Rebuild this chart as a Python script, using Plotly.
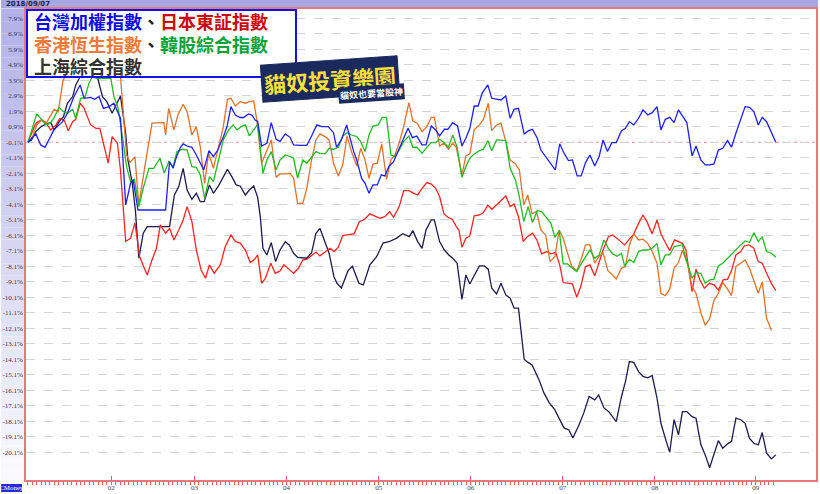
import plotly.graph_objects as go

# ---------------- data (x = trading-day index since 2018/01/02, y = % change) ----------------
month_pos = [19, 38, 59, 80, 101, 122, 143, 166]
month_labels = ["02", "03", "04", "05", "06", "07", "08", "09"]
y_ticks = [round(7.9 - i, 1) for i in range(29)]
y_labels = [f"{v:.1f}%" for v in y_ticks]

tw_day = [0, 1.8, 2.9, 3.9, 5.9, 7.9, 9.0, 10.5, 11.9, 12.8, 14.3, 15.2, 16.2, 17.2, 18.5, 19.6, 21.1, 22.3, 23.4, 24.0,
          25.1, 31.4, 32.3, 33.1, 33.9, 34.8, 35.4, 36.3, 37.4, 38.4, 40.1, 41.3, 42.3, 43.3, 44.6, 45.4, 46.3, 47.3, 48.4,
          49.2, 50.3, 51.1, 51.8, 52.4, 53.3, 54.5, 55.5, 56.6, 57.5, 58.7, 59.8, 60.6, 62.1, 63.6, 64.7, 65.9, 67.0, 68.5,
          69.7, 70.4, 71.5, 72.7, 73.6, 74.3, 75.0, 76.1, 76.9, 77.8, 78.7, 79.7, 80.6, 81.4, 82.4, 83.4, 84.4, 85.6, 86.7,
          87.7, 88.7, 89.9, 90.8, 92.0, 93.0, 93.9, 95.0, 95.8, 96.9, 98.0, 99.0, 99.9, 100.8, 101.8, 102.7, 103.6, 104.9,
          105.8, 106.9, 107.9, 109.0, 110.0, 110.9, 111.9, 113.2, 114.2, 115.1, 116.2, 117.0, 118.1, 119.3, 120.3, 121.3,
          122.3, 123.3, 124.2, 125.3, 126.2, 127.2, 128.2, 129.3, 130.3, 131.2, 132.2, 133.2, 134.2, 135.4, 136.3, 137.2,
          138.2, 139.3, 140.3, 141.4, 142.4, 143.5, 144.4, 145.4, 146.4, 147.4, 148.4, 149.3, 150.3, 151.5, 152.4, 153.5,
          154.5, 155.5, 156.5, 157.5, 158.5, 159.6, 160.5, 161.5, 162.4, 163.6, 164.6, 165.6, 166.6, 167.5, 168.5, 169.6,
          170.6]
tw_val = [-0.1, 0.44, -0.27, -0.42, 0.7, 1.23, 1.77, 2.85, 3.6, 2.74, 2.8, 2.67, 2.85, 2.09, 2.2, 2.42, 1.45, -4.14, -2.75,
          -2.53, -4.47, -4.47, -1.35, -1.78, -1.02, -0.42, -0.2, -0.34, -0.42, -0.92, -1.88, -0.64, -1.02, -0.6, 0.27, 0.9,
          2.2, 1.66, 1.5, 1.5, 1.73, 1.66, 1.34, 1.24, -0.34, -0.16, 1.17, 0.09, -0.04, 0.44, 0.22, -0.27, -0.3, -0.3, 0.31,
          1.02, 0.91, 0.91, 0.52, -0.42, 0.05, 1.02, 0.05, -0.7, -1.24, -2.42, -2.75, -3.39, -2.85, -2.85, -2.2, -2.27,
          -1.63, -1.35, -0.7, 0.05, 0.8, 0.2, 0.3, -0.27, -0.27, 0.95, 0.7, 0.31, 0.74, 0.74, 1.17, 0.95, -0.34, 0.16, 0.8,
          2.24, 2.24, 3.06, 3.6, 2.74, 2.67, 2.63, 2.89, 1.45, 2.03, 2.09, 0.44, 0.65, 0.74, 0.16, -0.6, -1.02, -1.45,
          -1.88, -0.2, -0.81, -1.28, -1.24, -2.27, -2.27, -1.41, -0.92, -1.63, -1.02, 0.05, -0.7, -0.12, -0.12, 0.65, 0.8,
          1.23, 1.02, 1.45, 1.99, 1.66, 1.81, 2.2, 0.7, 1.38, 1.51, 1.17, 1.99, 1.6, 1.17, -0.98, -0.34, -1.24, -1.56,
          -1.56, -1.5, -0.6, -0.49, 0.01, -0.42, 0.48, 1.23, 2.2, 2.16, 1.88, 1.02, 1.51, 1.23, 0.59, -0.1]

jp_day = [0, 1.1, 1.8, 3.0, 3.9, 5.2, 6.4, 7.3, 8.3, 9.2, 10.2, 10.9, 11.9, 12.8, 14.3, 15.5, 16.4, 17.2, 18.3, 19.2, 20.4,
          21.1, 22.3, 23.4, 24.4, 25.5, 27.2, 28.3, 29.3, 30.2, 31.4, 32.3, 33.3, 34.4, 35.4, 36.3, 37.4, 38.4, 39.5, 40.5,
          41.4, 42.5, 43.9, 45.0, 46.3, 47.3, 48.4, 49.6, 50.7, 51.7, 52.4, 53.3, 54.1, 55.4, 56.4, 57.5, 58.4, 59.6, 60.6,
          61.7, 62.7, 63.6, 64.5, 65.7, 66.6, 67.8, 68.9, 69.8, 70.8, 71.8, 73.1, 74.4, 75.6, 76.8, 78.0, 79.1, 80.3, 81.4,
          82.5, 83.4, 84.7, 85.7, 86.9, 88.0, 88.9, 89.9, 91.0, 92.0, 93.0, 93.9, 94.9, 95.8, 96.8, 97.7, 98.3, 99.0, 99.9,
          100.8, 101.8, 103.0, 103.9, 104.9, 105.8, 106.9, 107.9, 109.0, 110.0, 110.9, 111.9, 113.0, 113.9, 115.1, 116.1,
          117.2, 118.3, 119.3, 120.4, 121.3, 122.1, 123.0, 124.2, 125.2, 126.1, 127.2, 128.2, 129.3, 130.3, 131.2, 132.4,
          133.4, 134.4, 136.1, 137.2, 138.2, 139.3, 140.3, 141.2, 142.4, 143.5, 144.4, 145.4, 146.4, 147.5, 148.4, 149.3,
          150.1, 150.9, 151.5, 152.4, 153.3, 154.3, 155.5, 156.5, 157.5, 158.6, 159.6, 160.5, 161.5, 162.6, 163.4, 164.5,
          165.6, 166.6, 167.5, 168.5, 169.6, 170.6]
jp_val = [-0.1, 0.7, 1.13, 1.34, 1.23, 0.7, 1.02, 1.45, 1.3, 0.65, 1.23, 1.38, 2.42, 2.09, 1.02, 0.8, 0.8, -0.16, -1.45,
          0.27, -0.16, -1.88, -6.5, -6.3, -5.3, -7.5, -8.66, -7.69, -6.94, -5.43, -5.97, -5.65, -6.4, -5.76, -5.11, -4.25,
          -5.22, -7.05, -8.34, -8.87, -8.01, -8.55, -8.0, -6.83, -6.08, -6.5, -6.6, -7.05, -7.86, -7.65, -7.37, -9.2, -8.9,
          -7.9, -8.55, -8.4, -8.0, -8.3, -8.55, -8.23, -7.69, -7.65, -7.43, -7.18, -7.43, -7.15, -6.94, -7.15, -6.87,
          -6.12, -6.08, -6.01, -5.22, -5.07, -4.72, -4.85, -5.0, -4.9, -4.57, -4.94, -4.25, -3.22, -3.22, -3.4, -3.5,
          -3.07, -2.7, -2.8, -3.07, -3.6, -4.72, -4.94, -5.07, -5.54, -5.76, -6.87, -6.29, -6.14, -4.85, -4.79, -4.64,
          -4.15, -4.42, -4.15, -3.86, -3.56, -4.25, -4.08, -4.9, -6.51, -6.19, -5.97, -6.4, -7.3, -7.15, -7.3, -7.22,
          -8.01, -9.15, -9.2, -9.24, -10.1, -9.41, -8.12, -8.01, -8.72, -7.8, -7.05, -6.19, -6.08, -6.3, -6.72, -6.35,
          -6.01, -5.33, -4.79, -5.22, -6.01, -5.11, -6.01, -6.57, -7.09, -6.4, -6.51, -6.62, -7.05, -8.77, -9.73, -8.29,
          -8.98, -9.52, -9.2, -9.3, -9.63, -8.98, -8.94, -8.38, -7.37, -7.15, -6.79, -6.72, -6.94, -7.8, -7.9, -8.55,
          -9.2, -9.67]

hk_day = [0, 1.1, 2.0, 3.1, 4.1, 4.8, 6.0, 6.9, 7.5, 8.0, 9.5, 11.0, 13.0, 15.0, 17.0, 19.0, 20.0, 21.1, 22.5, 23.3, 24.4,
          25.3, 26.6, 28.3, 31.0, 31.4, 32.1, 33.3, 34.2, 35.4, 36.3, 37.4, 38.4, 39.3, 40.3, 41.2, 42.3, 43.7, 44.5, 45.5,
          46.3, 47.3, 48.4, 49.6, 50.5, 51.5, 52.2, 53.3, 54.5, 55.5, 56.6, 57.5, 58.7, 59.8, 60.6, 61.5, 62.7, 63.6, 64.7,
          65.7, 66.6, 67.8, 68.7, 69.7, 70.8, 71.8, 72.8, 73.8, 75.0, 75.9, 76.9, 77.8, 78.7, 79.7, 80.7, 81.8, 82.8, 83.7,
          84.7, 85.7, 86.9, 87.8, 88.8, 89.9, 91.0, 92.0, 92.7, 93.9, 94.9, 95.9, 96.9, 97.7, 99.0, 99.9, 100.8, 101.8,
          103.0, 103.9, 105.0, 105.8, 106.9, 107.9, 109.0, 110.0, 111.2, 112.1, 113.1, 114.0, 115.0, 116.0, 117.0, 118.1,
          119.1, 120.2, 121.2, 122.1, 123.1, 124.0, 125.2, 126.2, 127.2, 128.2, 129.3, 130.3, 131.2, 132.3, 133.4, 134.2,
          135.4, 136.3, 137.2, 138.2, 139.3, 140.3, 141.4, 142.4, 143.5, 144.4, 145.4, 146.4, 147.4, 148.4, 149.3, 150.5,
          151.5, 152.4, 153.5, 154.5, 155.5, 156.5, 157.5, 158.5, 159.6, 160.5, 161.5, 162.6, 163.6, 164.6, 165.6, 166.6,
          167.5, 168.5, 169.6]
hk_val = [-0.1, 0.27, 1.02, 1.34, 1.1, 1.45, 2.03, 1.88, 3.0, 3.9, 4.6, 5.0, 5.3, 4.9, 5.2, 4.8, 4.4, 4.14, -0.92, -1.41,
          -1.02, -4.14, -1.78, 1.13, 1.17, 0.37, 2.09, 0.7, 1.66, 2.35, 1.88, 0.37, 0.91, -0.38, -2.75, -0.81, -1.78, 0.0,
          0.8, 2.67, 2.74, 2.24, 2.52, 2.42, 2.52, 2.57, 1.34, -1.45, -0.6, 0.05, -2.36, -2.14, -2.14, -2.1, -2.42, -4.04,
          -4.04, -3.07, -1.24, 0.05, 0.44, 0.27, 0.05, -1.45, -2.27, -1.56, 0.31, -0.7, -1.63, -0.49, -1.24, -2.42, -1.5,
          -1.45, -0.2, -2.49, -1.24, -0.92, -0.12, 0.91, 2.46, 1.27, 1.13, 0.59, 0.91, 1.51, 1.51, -0.34, -0.16, -0.55,
          -0.16, -0.42, -2.2, -0.98, -0.85, 0.7, 1.02, 1.38, 2.42, 0.65, 1.02, 1.13, -0.06, -1.24, -1.5, -1.88, -4.14,
          -3.5, -4.72, -4.57, -5.76, -6.08, -7.8, -7.48, -5.76, -6.29, -7.26, -8.08, -8.38, -7.65, -6.72, -6.72, -7.9,
          -7.43, -7.22, -8.38, -8.66, -8.92, -8.23, -8.12, -6.72, -6.01, -6.4, -6.35, -6.62, -7.15, -7.9, -9.84, -10.0,
          -9.58, -8.23, -7.86, -7.05, -8.01, -9.41, -9.84, -11.1, -11.9, -11.5, -10.3, -9.84, -9.15, -9.58, -10.0, -8.12,
          -7.9, -7.69, -8.23, -9.09, -9.84, -9.09, -11.46, -12.25]

kr_day = [0, 1.1, 2.0, 3.1, 4.1, 5.1, 6.0, 7.1, 8.1, 9.0, 10.2, 10.9, 12.0, 13.0, 13.9, 14.7, 15.7, 16.6, 17.7, 18.9, 19.6,
          20.5, 21.5, 22.5, 23.4, 24.3, 25.3, 26.4, 27.6, 28.7, 30.1, 31.1, 32.1, 33.1, 34.0, 35.2, 36.3, 37.4, 38.4, 39.3,
          40.3, 41.4, 42.3, 43.5, 44.6, 45.8, 46.8, 47.7, 48.6, 49.6, 50.5, 51.5, 52.4, 53.6, 54.5, 55.5, 56.6, 57.5, 58.7,
          59.8, 60.6, 61.5, 62.7, 63.6, 64.7, 65.7, 66.6, 67.8, 68.7, 69.7, 70.8, 71.8, 72.8, 73.8, 75.0, 75.9, 76.9, 77.8,
          78.7, 79.9, 80.8, 81.8, 82.8, 83.7, 84.7, 85.7, 86.9, 87.8, 88.7, 89.9, 91.0, 92.0, 93.0, 93.9, 94.9, 95.9, 96.9,
          97.9, 99.0, 99.9, 100.8, 101.8, 103.0, 103.9, 104.9, 105.8, 106.9, 107.9, 109.0, 110.0, 111.2, 112.1, 113.1,
          114.1, 115.1, 116.2, 117.2, 118.1, 119.3, 120.2, 121.2, 122.1, 123.1, 124.2, 125.2, 126.2, 127.2, 128.2, 129.3,
          130.3, 131.4, 132.4, 133.4, 134.4, 135.4, 136.1, 137.2, 138.2, 139.3, 140.3, 141.4, 142.4, 143.5, 144.4, 145.4,
          146.4, 147.4, 148.4, 149.3, 150.3, 151.5, 152.4, 153.5, 154.5, 155.5, 156.5, 157.5, 158.5, 159.6, 160.5, 161.5,
          162.6, 163.6, 164.6, 165.6, 166.6, 167.5, 168.5, 169.6, 170.6]
kr_val = [-0.1, 0.91, 1.73, 1.38, 1.02, 1.13, 1.51, 2.16, 1.88, 1.77, 2.03, 1.45, 2.74, 2.8, 3.7, 4.14, 4.03, 4.03, 4.03,
          4.03, 2.85, 2.2, 0.37, -1.67, -2.64, -2.49, -4.25, -2.96, -1.78, -1.78, -1.13, -2.1, -1.35, -1.67, -0.7, -0.55,
          -0.6, -1.67, -1.71, -2.2, -3.71, -2.31, -2.64, -1.24, 0.09, 0.7, 1.02, 0.7, 0.91, 1.02, 0.31, 0.7, 1.06, -2.1,
          -1.24, -0.7, -1.88, -1.24, -0.92, -1.02, -1.13, -2.42, -1.24, -1.45, -1.07, -0.7, -0.81, -0.85, -0.49, -0.55,
          -0.42, 0.31, 0.52, 0.37, 0.27, -0.06, -0.7, 0.37, 0.95, 1.02, 1.51, 1.51, -0.92, -1.02, -0.6, -0.06, 0.31, -0.42,
          -0.42, -0.81, -0.42, -0.12, -0.12, 0.09, -0.12, -0.42, 0.37, -0.42, -2.36, -1.67, -1.13, -0.85, -0.64, -0.55,
          0.01, -0.64, 0.05, 0.05, 0.01, -1.78, -2.53, -3.61, -5.22, -4.25, -5.28, -4.51, -4.57, -4.9, -5.33, -6.23, -5.8,
          -7.95, -7.95, -8.23, -8.44, -7.95, -7.48, -7.05, -7.58, -7.37, -6.4, -6.94, -7.3, -7.45, -7.26, -8.08, -7.65,
          -7.86, -7.15, -7.05, -7.05, -6.94, -6.62, -8.01, -7.37, -7.37, -6.83, -6.79, -6.72, -7.8, -8.87, -8.51, -8.55,
          -9.2, -8.98, -8.94, -8.08, -7.9, -7.58, -7.3, -7.0, -6.72, -6.47, -6.57, -5.93, -6.51, -6.19, -7.15, -7.26,
          -7.52]

sh_day = [0, 0.8, 1.8, 3.0, 4.1, 5.2, 6.0, 7.1, 8.1, 9.0, 10.2, 10.9, 11.7, 13.0, 14.5, 15.8, 17.0, 18.0, 19.2, 20.4, 21.1,
          22.3, 22.8, 23.8, 24.5, 25.3, 26.3, 27.2, 28.3, 32.3, 33.4, 34.4, 35.4, 36.3, 37.4, 38.4, 39.3, 40.2, 41.4, 42.3,
          43.5, 44.5, 45.5, 46.5, 47.5, 48.4, 49.6, 50.5, 51.5, 52.4, 53.0, 53.6, 54.5, 55.5, 56.5, 57.5, 58.7, 59.6, 60.6,
          61.5, 62.7, 63.6, 64.7, 65.7, 66.6, 67.8, 68.7, 69.8, 70.5, 71.5, 73.0, 74.0, 75.5, 76.5, 78.0, 79.5, 81.0, 82.5,
          84.0, 85.5, 87.0, 87.8, 88.9, 89.9, 90.8, 92.0, 92.7, 93.9, 95.0, 96.0, 96.9, 97.9, 99.0, 99.9, 100.8, 101.8,
          103.0, 104.1, 105.0, 105.8, 106.9, 107.9, 109.0, 110.0, 110.9, 111.9, 112.7, 113.2, 113.9, 115.0, 116.6, 117.7,
          118.9, 120.2, 121.1, 122.3, 123.4, 124.3, 125.7, 126.8, 128.0, 129.3, 130.2, 131.4, 132.5, 134.2, 135.4, 136.3,
          137.2, 138.2, 139.3, 140.3, 141.4, 142.4, 143.5, 144.4, 145.4, 146.4, 147.4, 148.4, 149.3, 150.3, 151.5, 152.4,
          153.5, 154.5, 155.5, 156.5, 157.5, 158.5, 159.6, 160.5, 161.5, 162.6, 163.6, 164.6, 165.6, 166.6, 167.5, 168.5,
          169.6, 170.6]
sh_val = [-0.1, 0.05, 0.59, 0.91, 1.08, 1.17, 0.7, 1.23, 1.56, 2.42, 2.85, 3.6, 4.03, 4.8, 5.0, 4.14, 2.85, 2.52, 1.77,
          2.42, 2.89, 0.48, -1.24, -2.75, -4.47, -7.58, -5.97, -5.54, -5.54, -5.54, -3.5, -2.96, -1.78, -3.18, -3.78,
          -3.39, -3.93, -3.93, -2.85, -3.39, -2.9, -2.36, -1.84, -2.32, -2.85, -2.92, -3.5, -3.18, -2.92, -3.65, -4.9,
          -6.94, -7.37, -6.57, -7.8, -7.05, -6.51, -6.72, -7.26, -7.52, -7.58, -7.58, -7.22, -5.97, -5.65, -6.62, -7.26,
          -8.77, -9.2, -9.5, -8.4, -8.1, -9.2, -9.3, -8.0, -7.5, -6.6, -6.5, -6.3, -6.0, -6.19, -5.8, -6.51, -6.94, -5.76,
          -5.11, -5.11, -6.51, -7.05, -7.37, -7.58, -7.9, -10.23, -8.66, -9.24, -8.7, -8.08, -8.08, -8.29, -9.52, -9.89,
          -9.2, -9.95, -10.16, -10.8, -10.8, -12.86, -14.1, -14.27, -14.47, -15.43, -16.27, -16.9, -17.37, -17.88,
          -18.53, -18.66, -19.18, -18.34, -17.56, -16.5, -16.72, -16.4, -17.24, -17.48, -18.12, -16.5, -15.54, -14.25,
          -14.3, -14.9, -15.2, -15.3, -15.15, -16.6, -18.23, -19.2, -20.1, -18.0, -18.98, -17.48, -17.48, -17.8, -17.9,
          -19.6, -20.27, -21.1, -20.27, -19.35, -19.84, -19.56, -19.4, -17.9, -18.0, -18.23, -19.2, -19.52, -19.63,
          -18.83, -20.16, -20.53, -20.27]

series = [
    ("上海綜合指數", sh_day, sh_val, "#1c1c4e"),
    ("日本東証指數", jp_day, jp_val, "#ff2222"),
    ("香港恆生指數", hk_day, hk_val, "#e0722a"),
    ("韓股綜合指數", kr_day, kr_val, "#22bb22"),
    ("台灣加權指數", tw_day, tw_val, "#1e1eff"),
]

# ---------------- figure ----------------
W, H = 820, 494
ML, MR, MT, MB = 25, 2, 9, 14
PW, PH = W - ML - MR, H - MT - MB


def px(x):  # pixel -> paper x
    return (x - ML) / PW


def py(y):  # pixel -> paper y
    return (H - MB - y) / PH


fig = go.Figure()
for name, d, v, c in series:
    fig.add_trace(go.Scatter(x=d, y=v, mode="lines", name=name,
                             line=dict(color=c, width=1.3), hoverinfo="skip"))

shapes = []
# left gradient panel
n = 40
for i in range(n):
    t = i / (n - 1)
    r = int(178 + (252 - 178) * t)
    b = int(232 + (255 - 232) * t)
    y0 = 9 + (H - 9) * i / n
    y1 = 9 + (H - 9) * (i + 1) / n
    shapes.append(dict(type="rect", xref="paper", yref="paper", x0=px(0), x1=px(ML - 0.5),
                       y0=py(y1), y1=py(y0), fillcolor=f"rgb({r},{r},{b})", line=dict(width=0), layer="below"))
# header band
shapes.append(dict(type="rect", xref="paper", yref="paper", x0=px(0), x1=px(W), y0=py(8.5), y1=py(0),
                   fillcolor="#a6a6e2", line=dict(width=0), layer="below"))
# baseline
shapes.append(dict(type="line", xref="paper", yref="y", x0=0, x1=1, y0=-0.1, y1=-0.1,
                   line=dict(color="#f08a8a", width=1, dash="dot"), layer="below"))
# legend box
shapes.append(dict(type="rect", xref="paper", yref="paper", x0=px(26), x1=px(296), y0=py(77), y1=py(10),
                   fillcolor="white", line=dict(color="#1010ee", width=2), layer="above"))
# CMoney tag
shapes.append(dict(type="rect", xref="paper", yref="paper", x0=px(0), x1=px(21), y0=py(492), y1=py(484),
                   fillcolor="#2a2ae0", line=dict(width=0), layer="above"))

cjk = "Noto Sans CJK TC"
ann = []
lines = [
    ("<b><span style='color:#0a0ae6'>台灣加權指數</span><span style='color:#222'>、</span>"
     "<span style='color:#cc0a0a'>日本東証指數</span></b>", 21),
    ("<b><span style='color:#ef7a3a'>香港恆生指數</span><span style='color:#222'>、</span>"
     "<span style='color:#0aa33c'>韓股綜合指數</span></b>", 44),
    ("<b><span style='color:#333'>上海綜合指數</span></b>", 66),
]
for txt, yy in lines:
    ann.append(dict(xref="paper", yref="paper", x=px(31), y=py(yy), xanchor="left", yanchor="middle",
                    text=txt, showarrow=False, height=20, valign="middle", font=dict(family=cjk, size=18)))
# logo
ann.append(dict(xref="paper", yref="paper", x=px(330), y=py(79), xanchor="center", yanchor="middle",
                text="<b>貓奴投資樂園</b>", showarrow=False, textangle=-4,
                font=dict(family=cjk, size=22, color="#f7df3c"), bgcolor="#1b2a5e",
                bordercolor="#1b2a5e", borderpad=2))
ann.append(dict(xref="paper", yref="paper", x=px(372), y=py(94), xanchor="center", yanchor="middle",
                text="<b>貓奴也要當股神</b>", showarrow=False, textangle=-4,
                font=dict(family=cjk, size=9, color="#ffffff"), bgcolor="#1b2a5e", borderpad=1))
# date
ann.append(dict(xref="paper", yref="paper", x=px(3), y=py(4.5), xanchor="left", yanchor="middle",
                text="<b>2018/09/07</b>", showarrow=False,
                font=dict(family="DejaVu Sans", size=7, color="#222244")))
# CMoney
ann.append(dict(xref="paper", yref="paper", x=px(10.5), y=py(488), xanchor="center", yanchor="middle",
                text="CMoney", showarrow=False,
                font=dict(family="Liberation Serif", size=7, color="#ffffff")))

fig.update_layout(
    width=W, height=H,
    margin=dict(l=ML, r=MR, t=MT, b=MB),
    paper_bgcolor="white", plot_bgcolor="white",
    showlegend=False,
    shapes=shapes, annotations=ann,
    xaxis=dict(range=[-0.45, (818 - 27) / 4.4], tickmode="array", tickvals=month_pos, ticktext=month_labels,
               ticks="inside", ticklen=4, tickcolor="#e06060", tickwidth=1,
               showline=True, linecolor="#e87878", linewidth=1.5, mirror=True,
               showgrid=False, zeroline=False,
               tickfont=dict(family="Liberation Serif", size=7, color="#444444"),
               minor=dict(tickmode="array", tickvals=list(range(0, 171)), ticks="outside", ticklen=3,
                          tickcolor="#e06060", showgrid=False)),
    yaxis=dict(range=[-21.89, 8.5], tickmode="array", tickvals=y_ticks, ticktext=y_labels,
               ticks="", showgrid=True, gridcolor="#d4d4d4", griddash="dash", gridwidth=1,
               showline=True, linecolor="#e87878", linewidth=1.5, mirror=True, zeroline=False,
               tickfont=dict(family="Liberation Serif", size=7, color="#333355")),
)

fig.write_html("out.html", config={"displayModeBar": False},
               post_script="document.body.style.margin='0px';document.body.style.overflow='hidden';")
